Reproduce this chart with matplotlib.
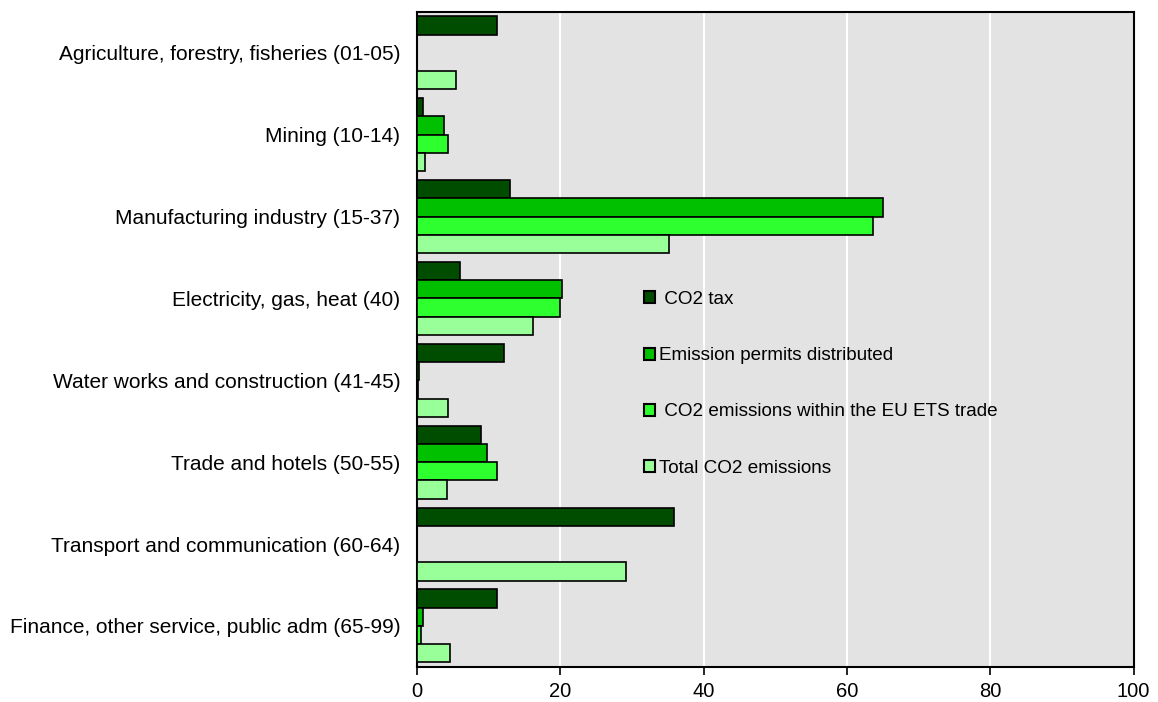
import numpy as np
import matplotlib.pyplot as plt
from matplotlib.patches import Patch

plt.rcParams['font.family'] = ['Liberation Sans', 'DejaVu Sans']

sectors = [
    'Agriculture, forestry, fisheries (01-05)',
    'Mining (10-14)',
    'Manufacturing industry (15-37)',
    'Electricity, gas, heat (40)',
    'Water works and construction (41-45)',
    'Trade and hotels (50-55)',
    'Transport and communication (60-64)',
    'Finance, other service, public adm (65-99)',
]

co2_tax = [11.2, 0.8, 13.0, 6.0, 12.2, 9.0, 35.9, 11.2]
permits = [0.0, 3.8, 65.0, 20.3, 0.3, 9.8, 0.0, 0.9]
ets_emissions = [0.0, 4.3, 63.6, 20.0, 0.2, 11.2, 0.0, 0.6]
total_emissions = [5.5, 1.1, 35.2, 16.2, 4.3, 4.2, 29.2, 4.6]

series = [
    (' CO2 tax', co2_tax, '#004d00'),
    ('Emission permits distributed', permits, '#00c000'),
    (' CO2 emissions within the EU ETS trade', ets_emissions, '#2eff2e'),
    ('Total CO2 emissions', total_emissions, '#99ff99'),
]

fig = plt.figure(figsize=(11.58, 7.02), dpi=100)
ax = fig.add_axes([0.360, 0.050, 0.619, 0.933])
ax.set_facecolor('#e3e3e3')

y = np.arange(len(sectors))
h = 0.223
for i, (label, vals, color) in enumerate(series):
    ax.barh(y - 1.5 * h + i * h, vals, height=h, color=color,
            edgecolor='black', linewidth=1.2, zorder=3)

ax.set_xlim(0, 100)
ax.set_ylim(len(sectors) - 0.5, -0.5)
ax.set_xticks(np.arange(0, 101, 20))
ax.set_yticks(y)
ax.set_yticklabels(sectors, fontsize=15)
ax.tick_params(axis='y', length=0, pad=12)
ax.tick_params(axis='x', length=6, width=1.2, labelsize=14.5, direction='out', pad=5)
ax.grid(axis='x', color='white', linewidth=1.5, zorder=1)
for s in ax.spines.values():
    s.set_linewidth(1.5)
    s.set_color('black')

handles = [Patch(facecolor=c, edgecolor='black', linewidth=1.5, label=l)
           for l, _, c in series]
ax.legend(handles=handles, loc='upper left', bbox_to_anchor=(0.293, 0.60),
          frameon=False, fontsize=13.6, handlelength=0.6, handleheight=0.6,
          handletextpad=0.2, labelspacing=2.08)

fig.savefig('out.png', dpi=100)
